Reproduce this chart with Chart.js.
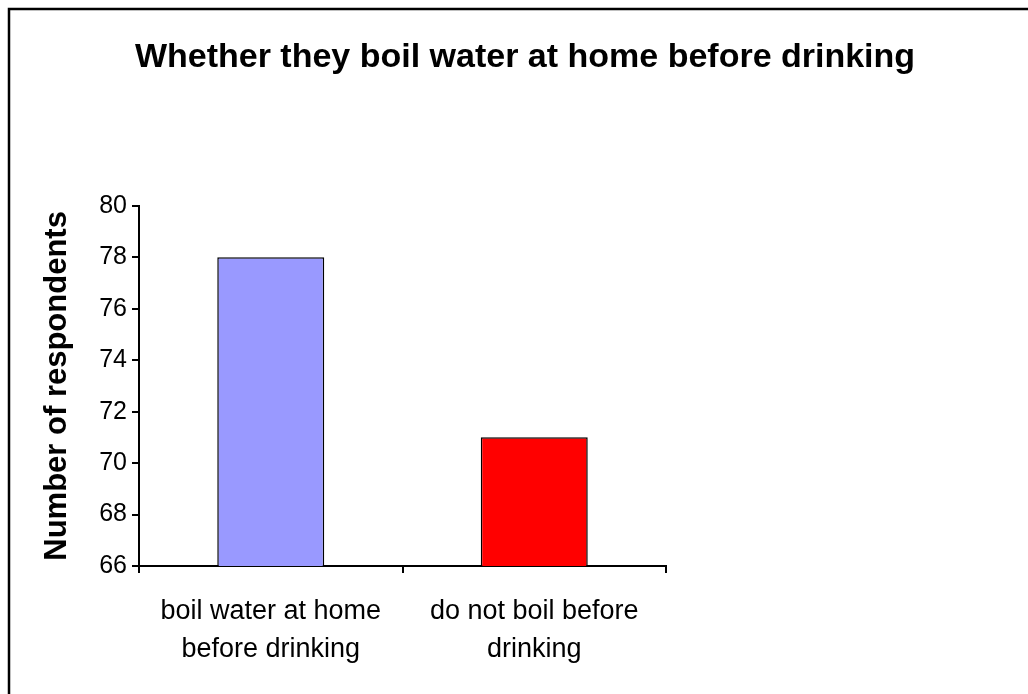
<!DOCTYPE html>
<html>
<head>
<meta charset="utf-8">
<script src="https://cdn.jsdelivr.net/npm/chart.js@4"></script>
<style>
  html, body { margin: 0; padding: 0; background: #fff; }
  #wrap { width: 1028px; height: 694px; position: relative; }
</style>
</head>
<body>
<div id="wrap"><canvas id="c"></canvas></div>
<script>
const categories = [["boil water at home", "before drinking"], ["do not boil before", "drinking"]];
const respondents = [78, 71];
const barColors = ["#9999FF", "#FF0000"];
const chartTitle = "Whether they boil water at home before drinking";
const yAxisTitle = "Number of respondents";
const yMin = 66, yMax = 80, yStep = 2;

const frame = {
  id: 'frame',
  afterDraw(chart) {
    const ctx = chart.ctx;
    ctx.save();
    ctx.strokeStyle = '#000';
    ctx.lineWidth = 2.5;
    ctx.strokeRect(9, 9, 1200, 1000);
    ctx.restore();
  }
};

new Chart(document.getElementById('c'), {
  type: 'bar',
  data: {
    labels: categories,
    datasets: [{
      data: respondents,
      backgroundColor: barColors,
      borderColor: '#000',
      borderWidth: 1.5,
      borderSkipped: 'start',
      barPercentage: 0.406,
      categoryPercentage: 1,
      yAxisID: 'y'
    }]
  },
  options: {
    responsive: true,
    maintainAspectRatio: false,
    animation: false,
    layout: { padding: { left: 22, right: 0, top: 0, bottom: 0 } },
    plugins: {
      legend: { display: false },
      tooltip: { enabled: false },
      title: {
        display: true,
        text: chartTitle,
        color: '#000',
        font: { family: 'Liberation Sans', size: 34, weight: 'bold', lineHeight: 1.2 },
        padding: { top: 37, bottom: 128 }
      }
    },
    scales: {
      x: {
        offset: true,
        grid: { display: true, drawOnChartArea: false, offset: true, color: '#000', tickLength: 7, lineWidth: 2 },
        border: { display: true, color: '#000', width: 2 },
        ticks: {
          color: '#000',
          maxRotation: 0,
          autoSkip: false,
          padding: 20,
          font: { family: 'Liberation Sans', size: 27, lineHeight: 1.4 }
        },
        afterFit(scale) { scale.height = 128; }
      },
      y: {
        position: 'left',
        min: yMin,
        max: yMax,
        grid: { display: true, drawOnChartArea: false, color: '#000', tickLength: 7, lineWidth: 2 },
        border: { display: true, color: '#000', width: 2 },
        ticks: {
          stepSize: yStep,
          color: '#000',
          padding: 5,
          font: { family: 'Liberation Sans', size: 25 }
        },
        title: {
          display: true,
          text: yAxisTitle,
          color: '#000',
          font: { family: 'Liberation Sans', size: 31, weight: 'bold', lineHeight: 1.2 },
          padding: { top: 17, bottom: 0 }
        },
        afterFit(scale) { scale.width = 117; }
      },
      spacer: {
        type: 'linear',
        position: 'right',
        display: true,
        grid: { display: false, drawTicks: false },
        border: { display: false },
        ticks: { display: false },
        afterFit(scale) { scale.width = 362; }
      }
    }
  },
  plugins: [frame]
});
</script>
</body>
</html>
